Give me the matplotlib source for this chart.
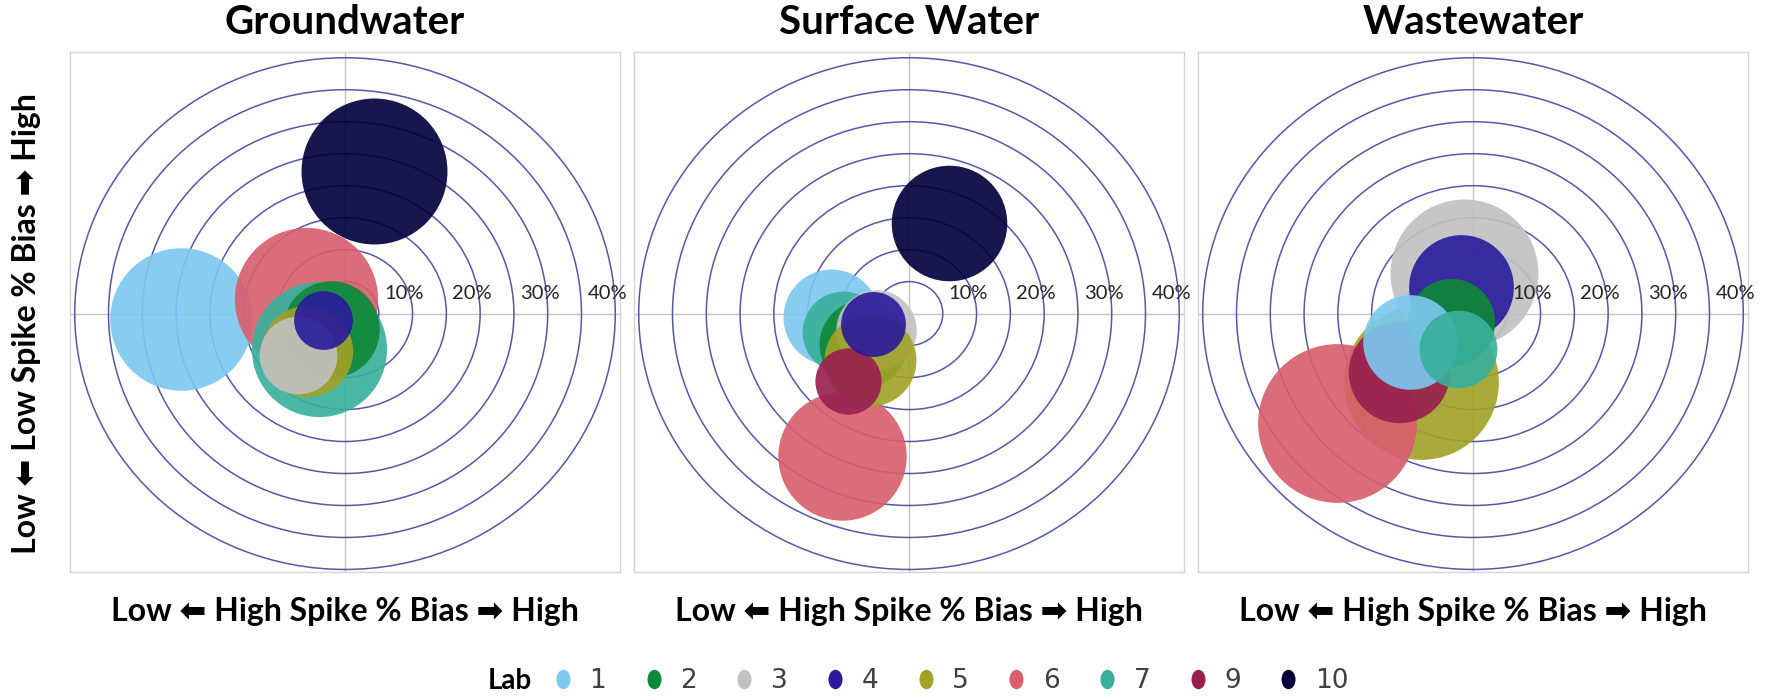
import matplotlib
matplotlib.use("Agg")
import matplotlib.pyplot as plt
import numpy as np
from matplotlib.patches import Circle
from matplotlib.lines import Line2D
from matplotlib.path import Path
from matplotlib.transforms import Affine2D

# labs and their colours
labs = ["1", "2", "3", "4", "5", "6", "7", "9", "10"]
lab_colors = ["#7cc8ef", "#0f8838", "#c1c1c1", "#2a1a9c", "#a2a228",
              "#d85e6e", "#38b09b", "#98204f", "#00003c"]

panels = ["Groundwater", "Surface Water", "Wastewater"]

# high spike % bias (x), low spike % bias (y), bubble size (diameter, % units)
# order of values follows `labs`; nan = lab not reported
gw_high = [-24.3, -2.1, -6.9, -3.3, -5.6, -5.8, -3.8, np.nan, 4.35]
gw_low = [-0.9, -2.4, -6.4, -1.0, -5.9, 2.3, -5.6, np.nan, 22.3]
gw_size = [21.1, 14.3, 11.5, 8.7, 13.5, 21.2, 20.0, np.nan, 21.6]

sw_high = [-11.6, -6.8, -4.9, -5.4, -5.8, -9.9, -9.8, -9.1, 5.9]
sw_low = [-0.5, -4.8, -2.5, -1.7, -7.2, -22.3, -2.8, -10.5, 14.2]
sw_size = [14.2, 13.0, 11.9, 9.6, 13.6, 19.0, 12.1, 9.8, 17.1]

ww_high = [-9.3, -3.3, -1.4, -1.8, -7.7, -20.1, -2.2, -10.9, np.nan]
ww_low = [-4.5, -1.3, 6.4, 4.2, -10.7, -17.1, -5.6, -9.2, np.nan]
ww_size = [14.0, 12.9, 21.9, 15.5, 22.9, 23.5, 11.5, 15.0, np.nan]

ring_radii = [5, 10, 15, 20, 25, 30, 35, 40]
ring_labels = [10, 20, 30, 40]

# drawing order (back to front) for each panel
stack = [
    ["10", "1", "6", "7", "2", "5", "3", "4"],
    ["6", "10", "1", "7", "2", "3", "5", "9", "4"],
    ["5", "6", "3", "4", "9", "2", "1", "7"],
]

data = [(gw_high, gw_low, gw_size), (sw_high, sw_low, sw_size), (ww_high, ww_low, ww_size)]

W, H, DPI = 17.69, 6.96, 100
fig = plt.figure(figsize=(W, H), dpi=DPI)
plt.rcParams['font.family'] = ['Lato', 'DejaVu Sans']

lefts = [70, 634, 1198]
ax_w, ax_h = 550, 520
ax_bottom = 696 - 572
xlim = (-40.7, 40.7)
ylim = (-40.4, 40.9)
ring_col = "#5558a6"

for k, (name, (hx, ly, sz)) in enumerate(zip(panels, data)):
    ax = fig.add_axes([lefts[k] / 1769, ax_bottom / 696, ax_w / 1769, ax_h / 696])
    ax.set_xlim(*xlim)
    ax.set_ylim(*ylim)
    ax.set_xticks([])
    ax.set_yticks([])
    for s in ax.spines.values():
        s.set_color("#d4d4d4")
        s.set_linewidth(1.0)

    ax.axhline(0, color="#c4c4c4", lw=1.0, zorder=1)
    ax.axvline(0, color="#c4c4c4", lw=1.0, zorder=1)
    for r in ring_radii:
        ax.add_patch(Circle((0, 0), r, fill=False, ec=ring_col, lw=1.1, zorder=2))

    # bubble diameter in points
    px_per_unit = ax_w / (xlim[1] - xlim[0])
    for z, lab in enumerate(stack[k]):
        i = labs.index(lab)
        if np.isnan(sz[i]):
            continue
        d_pt = sz[i] * px_per_unit * 72 / DPI
        ax.scatter([hx[i]], [ly[i]], s=d_pt ** 2, color=lab_colors[i],
                   alpha=0.91, linewidths=0, zorder=3 + z)

    for v in ring_labels:
        ax.text(v - 1.2, 3.1, f"{v}%", ha="center", va="center",
                fontsize=14.5, color="#222222", zorder=20)

    cx = (lefts[k] + ax_w / 2) / 1769
    fig.text(cx, 1 - 23 / 696, name, ha="center", va="center",
             fontsize=29, fontweight="bold")
    fig.text(cx, 1 - 612 / 696, "Low \u2b05 High Spike % Bias \u27a1 High",
             ha="center", va="center", fontsize=23, fontweight="bold")

fig.text(27 / 1769, 1 - 324 / 696, "Low \u2b05 Low Spike % Bias \u27a1 High",
         ha="center", va="center", rotation=90, fontsize=23, fontweight="bold")

# legend
oval = Path.unit_circle().transformed(Affine2D().scale(0.72, 1.0))
handles = [Line2D([], [], ls="none", marker=oval, markersize=14,
                  markerfacecolor=c, markeredgecolor="none") for c in lab_colors]
fig.text(510 / 1769, 1 - 681 / 696, "Lab", ha="center", va="center",
         fontsize=20, fontweight="bold")
fig.legend(handles, labs, ncol=len(labs), loc="center left",
           bbox_to_anchor=(550 / 1769, 1 - 681 / 696), frameon=False,
           handletextpad=0.5, columnspacing=1.3, handlelength=1.0,
           prop={"family": ["Liberation Sans Narrow", "DejaVu Sans"], "size": 19},
           labelcolor="#404040", borderpad=0, borderaxespad=0)

fig.savefig("out.png", dpi=DPI)
